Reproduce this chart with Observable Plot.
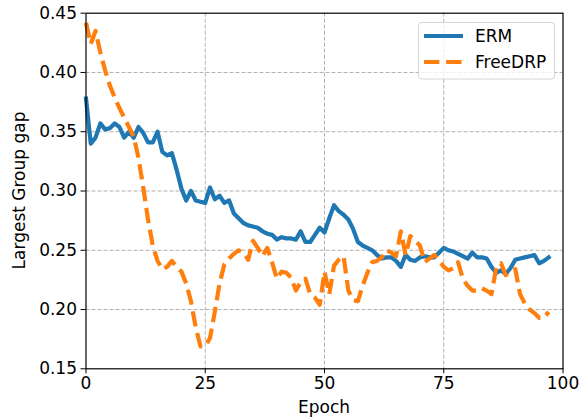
<!DOCTYPE html>
<html>
<head>
<meta charset="utf-8">
<script src="https://cdn.jsdelivr.net/npm/d3@7"></script>
<script src="https://cdn.jsdelivr.net/npm/@observablehq/plot@0.6"></script>
<style>
  html, body { margin: 0; padding: 0; background: #fff; }
  #chart svg { display: block; font-family: "DejaVu Sans", sans-serif; }
</style>
</head>
<body>
<div id="chart"></div>
<script>
const seriesNames = ["ERM", "FreeDRP"];
const seriesColors = ["#1f77b4", "#ff7f0e"];
const xTicks = [0, 25, 50, 75, 100];
const yTicks = [0.15, 0.20, 0.25, 0.30, 0.35, 0.40, 0.45];

// Largest group gap per epoch (index = epoch)
const ermGap = [
  0.378, 0.340, 0.345, 0.357, 0.352, 0.353, 0.357, 0.354, 0.345, 0.350,
  0.345, 0.354, 0.349, 0.341, 0.341, 0.350, 0.333, 0.330, 0.332, 0.318,
  0.302, 0.292, 0.300, 0.292, 0.291, 0.290, 0.303, 0.293, 0.296, 0.290,
  0.292, 0.281, 0.277, 0.273, 0.271, 0.270, 0.269, 0.266, 0.264, 0.263,
  0.259, 0.261, 0.260, 0.260, 0.259, 0.266, 0.257, 0.257, 0.263, 0.269,
  0.265, 0.277, 0.288, 0.283, 0.280, 0.276, 0.268, 0.257, 0.254, 0.252,
  0.250, 0.246, 0.243, 0.244, 0.244, 0.241, 0.236, 0.246, 0.242, 0.241,
  0.244, 0.245, 0.244, 0.244, 0.248, 0.252, 0.250, 0.249, 0.247, 0.245,
  0.243, 0.248, 0.244, 0.244, 0.243, 0.236, 0.231, 0.233, 0.230, 0.235,
  0.242, 0.243, 0.244, 0.245, 0.246, 0.239, 0.241, 0.244
];
const freeDrpGap = [
  0.442, 0.424, 0.435, 0.417, 0.402, 0.389, 0.379, 0.370, 0.362, 0.354,
  0.346, 0.328, 0.303, 0.276, 0.254, 0.241, 0.234, 0.236, 0.241, 0.236,
  0.232, 0.222, 0.207, 0.185, 0.169, 0.169, 0.176, 0.198, 0.222, 0.238,
  0.243, 0.247, 0.250, 0.248, 0.242, 0.258, 0.252, 0.245, 0.252, 0.240,
  0.226, 0.232, 0.231, 0.227, 0.216, 0.223, 0.226, 0.213, 0.210, 0.204,
  0.232, 0.213, 0.237, 0.242, 0.245, 0.216, 0.208, 0.207, 0.220, 0.231,
  0.240, 0.241, 0.244, 0.250, 0.248, 0.245, 0.266, 0.246, 0.262, 0.258,
  0.254, 0.240, 0.243, 0.246, 0.242, 0.236, 0.233, 0.235, 0.240, 0.226,
  0.220, 0.216, 0.216, 0.218, 0.216, 0.213, 0.235, 0.239, 0.229, 0.232,
  0.234, 0.213, 0.205, 0.200, 0.197, 0.193, 0.193, 0.198
];

const FS = 17;
const W = 583, H = 417;
const mL = 85.5, mR = 20.5, mT = 12.7, mB = 48.7;

const svg = Plot.plot({
  width: W,
  height: H,
  marginLeft: mL,
  marginRight: mR,
  marginTop: mT,
  marginBottom: mB,
  style: { fontFamily: "DejaVu Sans, sans-serif", fontSize: FS + "px", color: "#000", background: "#fff" },
  x: { domain: [0, 100] },
  y: { domain: [0.15, 0.45] },
  marks: [
    Plot.gridX(xTicks.slice(1, -1), { stroke: "#b0b0b0", strokeOpacity: 1, strokeWidth: 1, strokeDasharray: "4,2" }),
    Plot.gridY(yTicks.slice(1, -1), { stroke: "#b0b0b0", strokeOpacity: 1, strokeWidth: 1, strokeDasharray: "4,2" }),
    Plot.line(ermGap, { x: (d, i) => i, y: d => d, stroke: seriesColors[0], strokeWidth: 4.2, strokeLinejoin: "round", strokeLinecap: "square" }),
    Plot.line(freeDrpGap, { x: (d, i) => i, y: d => d, stroke: seriesColors[1], strokeWidth: 4.2, strokeDasharray: "15.4,6.7", strokeLinejoin: "round", strokeLinecap: "butt" }),
    Plot.frame({ stroke: "#000", strokeWidth: 1.2 }),
    Plot.axisX({ ticks: xTicks, tickSize: 5, tickPadding: 3, fontSize: FS, label: null, tickFormat: d => String(d) }),
    Plot.axisY({ ticks: yTicks, tickSize: 5, tickPadding: 4, fontSize: FS, label: null, tickFormat: d3.format(".2f") })
  ]
});

const s = d3.select(svg);
// Axis titles
s.append("text")
  .attr("x", mL + (W - mL - mR) / 2).attr("y", 413)
  .attr("text-anchor", "middle").attr("font-size", FS).attr("fill", "#000")
  .text("Epoch");
s.append("text")
  .attr("transform", `translate(20,${mT + (H - mT - mB) / 2}) rotate(-90)`)
  .attr("text-anchor", "middle").attr("dominant-baseline", "middle").attr("font-size", FS).attr("fill", "#000")
  .text("Largest Group gap");

// Legend
const lg = s.append("g");
lg.append("rect").attr("x", 418.5).attr("y", 22.5).attr("width", 136).attr("height", 56.5)
  .attr("rx", 3).attr("fill", "#fff").attr("fill-opacity", 0.8).attr("stroke", "#d6d6d6").attr("stroke-width", 1);
seriesNames.forEach((name, i) => {
  const cy = 36 + i * 26;
  lg.append("line").attr("x1", 424).attr("x2", 463).attr("y1", cy).attr("y2", cy)
    .attr("stroke", seriesColors[i]).attr("stroke-width", 4.2)
    .attr("stroke-dasharray", i === 1 ? "15.4,6.7" : null);
  lg.append("text").attr("x", 475).attr("y", cy).attr("dominant-baseline", "central")
    .attr("text-anchor", "start")
    .attr("font-size", FS).attr("fill", "#000").text(name);
});

document.getElementById("chart").appendChild(svg);
</script>
</body>
</html>
